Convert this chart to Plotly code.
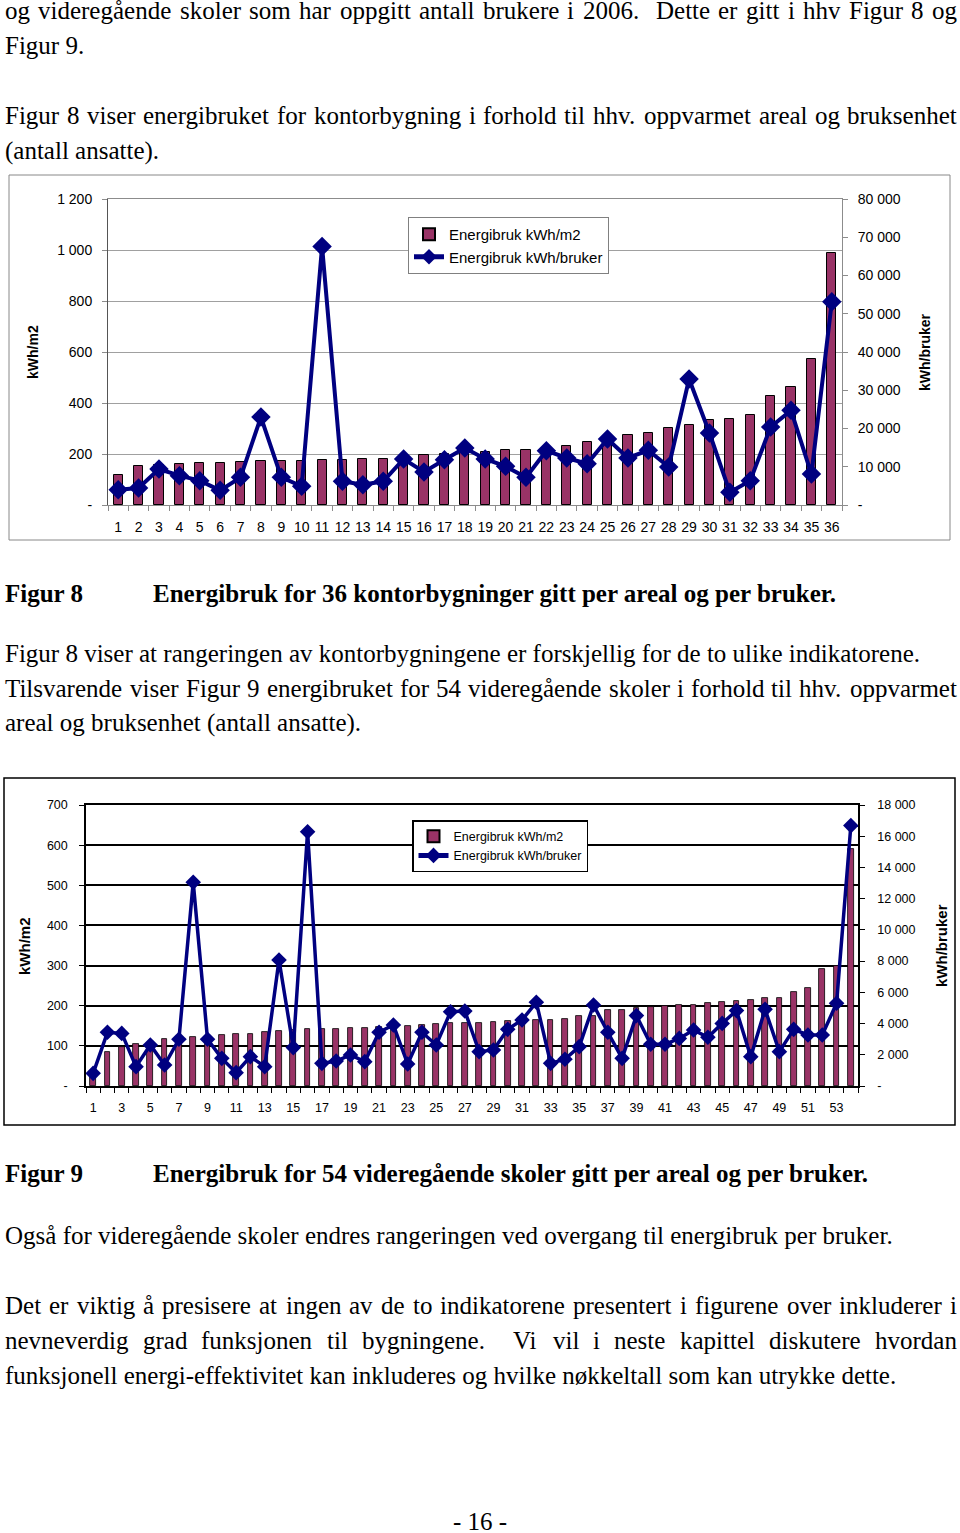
import plotly.graph_objects as go

W, H = 960, 1533

# ---------------- data ----------------
office_ids = list(range(1, 37))
office_kwh_m2 = [116, 154, 158, 161, 165, 165, 169, 171, 173, 174, 175, 178, 180, 182,
                 191, 196, 200, 205, 208, 214, 217, 224, 233, 248, 263, 273, 284, 302,
                 312, 332, 337, 353, 426, 463, 574, 990]
office_kwh_user = [4000, 4450, 9400, 7670, 6360, 3830, 7230, 23000, 7230, 4880, 67600,
                   6190, 5320, 6190, 12030, 8630, 11850, 14900, 12030, 10100, 7230, 14200,
                   12290, 10800, 17250, 12290, 14300, 9930, 32940, 18820, 3310, 6360,
                   20390, 24750, 8100, 53160]

school_ids = list(range(1, 55))
school_kwh_m2 = [25, 85, 98, 105, 108, 116, 119, 121, 123, 126, 129, 129, 134, 137, 140,
                 142, 142, 142, 145, 145, 146, 148, 150, 151, 154, 157, 157, 158, 160,
                 163, 164, 164, 165, 168, 174, 175, 189, 189, 194, 197, 199, 201, 203,
                 207, 210, 213, 215, 218, 218, 233, 243, 292, 300, 591]
school_kwh_user = [811, 3440, 3370, 1240, 2630, 1345, 2990, 13050, 2990, 1770, 854, 1880,
                   1240, 8070, 2460, 16290, 1450, 1600, 1990, 1560, 3440, 3910, 1410, 3440,
                   2630, 4760, 4800, 2200, 2310, 3630, 4230, 5360, 1450, 1710, 2520, 5190,
                   3440, 1770, 4510, 2670, 2670, 3050, 3590, 3120, 4010, 4830, 1880, 4910,
                   2200, 3630, 3270, 3270, 5300, 16680]

series_names = ["Energibruk kWh/m2", "Energibruk kWh/bruker"]
axis_titles = ["kWh/m2", "kWh/bruker"]

office_left_ticks = [0, 200, 400, 600, 800, 1000, 1200]
office_left_labels = ["-", "200", "400", "600", "800", "1 000", "1 200"]
office_right_ticks = [0, 10000, 20000, 30000, 40000, 50000, 60000, 70000, 80000]
office_right_labels = ["-", "10 000", "20 000", "30 000", "40 000", "50 000", "60 000",
                       "70 000", "80 000"]
office_x_labels = [str(i) for i in office_ids]

school_left_ticks = [0, 100, 200, 300, 400, 500, 600, 700]
school_left_labels = ["-", "100", "200", "300", "400", "500", "600", "700"]
school_right_ticks = [0, 2000, 4000, 6000, 8000, 10000, 12000, 14000, 16000, 18000]
school_right_labels = ["-", "2 000", "4 000", "6 000", "8 000", "10 000", "12 000",
                       "14 000", "16 000", "18 000"]
school_x_ticks = list(range(1, 55, 2))
school_x_labels = [str(i) for i in school_x_ticks]

# body text (content), justified flag
body_text = [
    ("og videregående skoler som har oppgitt antall brukere i 2006.  Dette er gitt i hhv Figur 8 og", True),
    ("Figur 9.", False),
    ("Figur 8 viser energibruket for kontorbygning i forhold til hhv. oppvarmet areal og bruksenhet", True),
    ("(antall ansatte).", False),
    ("Figur 8 viser at rangeringen av kontorbygningene er forskjellig for de to ulike indikatorene.", False),
    ("Tilsvarende viser Figur 9 energibruket for 54 videregående skoler i forhold til hhv. oppvarmet", True),
    ("areal og bruksenhet (antall ansatte).", False),
    ("Også for videregående skoler endres rangeringen ved overgang til energibruk per bruker.", False),
    ("Det er viktig å presisere at ingen av de to indikatorene presentert i figurene over inkluderer i", True),
    ("nevneverdig grad funksjonen til bygningene.  Vi vil i neste kapittel diskutere hvordan", True),
    ("funksjonell energi-effektivitet kan inkluderes og hvilke nøkkeltall som kan utrykke dette.", False),
]
captions = [
    ("Figur 8", "Energibruk for 36 kontorbygninger gitt per areal og per bruker."),
    ("Figur 9", "Energibruk for 54 videregående skoler gitt per areal og per bruker."),
]
page_number = "- 16 -"

# ---------------- layout constants ----------------
body_baselines = [18, 53, 123, 158, 661, 696, 730, 1243, 1313, 1348, 1383]
caption_baselines = [601, 1181]
FS = 25
SERIF = "Liberation Serif, Times New Roman, serif"
SANS = "Liberation Sans, Arial, sans-serif"
BAR_COLOR = "#993366"
LINE_COLOR = "#000080"

# Times-Roman advance widths (1/1000 em)
TW = {' ': 250, '.': 250, ',': 250, '-': 333, '(': 333, ')': 333,
      'a': 444, 'b': 500, 'c': 444, 'd': 500, 'e': 444, 'f': 333, 'g': 500, 'h': 500,
      'i': 278, 'j': 278, 'k': 500, 'l': 278, 'm': 778, 'n': 500, 'o': 500, 'p': 500,
      'q': 500, 'r': 333, 's': 389, 't': 278, 'u': 500, 'v': 500, 'w': 722, 'x': 500,
      'y': 500, 'z': 444, 'å': 444, 'ø': 500, 'æ': 667,
      'A': 722, 'B': 667, 'C': 667, 'D': 722, 'E': 611, 'F': 556, 'G': 722, 'H': 722,
      'I': 333, 'J': 389, 'K': 722, 'L': 611, 'M': 889, 'N': 722, 'O': 722, 'P': 556,
      'Q': 722, 'R': 667, 'S': 556, 'T': 611, 'U': 722, 'V': 722, 'W': 944, 'X': 722,
      'Y': 722, 'Z': 611}


def tw(s, fs=FS):
    return sum(TW.get(c, 500) for c in s) / 1000.0 * fs


def px(x):
    return x / W


def py(y):
    return 1 - y / H


annotations = []


def text_ann(x, baseline, text, size=FS, bold=False, anchor="left"):
    annotations.append(dict(
        x=px(x), y=py(baseline - 0.3 * size), xref="paper", yref="paper",
        text=("<b>%s</b>" % text) if bold else text, showarrow=False,
        xanchor=anchor, yanchor="middle", borderpad=0,
        font=dict(family=SERIF, size=size, color="black")))


X0, X1 = 4, 956
for (line, just), base in zip(body_text, body_baselines):
    if not just:
        text_ann(X0, base, line)
        continue
    words = line.split(" ")
    gaps = len(words) - 1
    natural = sum(tw(w) for w in words) + gaps * tw(" ")
    extra = (X1 - X0 - natural) / gaps
    x = X0
    for w in words:
        if w:
            text_ann(x, base, w)
        x += tw(w) + tw(" ") + extra

for (lab, cap), base in zip(captions, caption_baselines):
    text_ann(4, base, lab, bold=True)
    text_ann(152, base, cap, bold=True)

text_ann(480, 1529, page_number, anchor="center")


def rot_title(x, y, text, size):
    annotations.append(dict(
        x=px(x), y=py(y), xref="paper", yref="paper", text="<b>%s</b>" % text,
        showarrow=False, textangle=-90, xanchor="center", yanchor="middle",
        font=dict(family=SANS, size=size, color="black")))


rot_title(33, 352, axis_titles[0], 14)
rot_title(925, 352, axis_titles[1], 14)
rot_title(24, 946, axis_titles[0], 15)
rot_title(941, 946, axis_titles[1], 15)

# ---------------- figure ----------------
fig = go.Figure()

fig.add_trace(go.Bar(
    x=office_ids, y=office_kwh_m2, name=series_names[0], width=0.45,
    marker=dict(color=BAR_COLOR, line=dict(color="black", width=1)),
    xaxis="x", yaxis="y", legend="legend"))
fig.add_trace(go.Scatter(
    x=office_ids, y=office_kwh_user, name=series_names[1], mode="lines+markers",
    line=dict(color=LINE_COLOR, width=4),
    marker=dict(symbol="diamond", size=15, color=LINE_COLOR),
    xaxis="x", yaxis="y2", legend="legend"))

fig.add_trace(go.Bar(
    x=school_ids, y=school_kwh_m2, name=series_names[0], width=0.4,
    marker=dict(color=BAR_COLOR, line=dict(color="black", width=0.8)),
    xaxis="x2", yaxis="y3", legend="legend2"))
fig.add_trace(go.Scatter(
    x=school_ids, y=school_kwh_user, name=series_names[1], mode="lines+markers",
    line=dict(color=LINE_COLOR, width=3.5),
    marker=dict(symbol="diamond", size=12, color=LINE_COLOR),
    xaxis="x2", yaxis="y4", legend="legend2"))

tick1 = dict(family=SANS, size=14, color="black")
tick2 = dict(family=SANS, size=12.5, color="black")
G1 = "#8c8c8c"

fig.update_layout(
    width=W, height=H, autosize=False,
    margin=dict(l=0, r=0, t=0, b=0, pad=0, autoexpand=False),
    paper_bgcolor="white", plot_bgcolor="white",
    bargap=0,
    annotations=annotations,
    xaxis=dict(domain=[px(108), px(842)], anchor="y", range=[0.5, 36.5],
               tickmode="array", tickvals=office_ids, ticktext=office_x_labels,
               ticks="", ticklabelstandoff=9, tickfont=tick1,
               showline=True, linecolor=G1, linewidth=1, mirror=True,
               showgrid=False, zeroline=False,
               minor=dict(tickmode="linear", tick0=0.5, dtick=1, ticks="outside",
                          ticklen=5, tickcolor=G1, showgrid=False)),
    yaxis=dict(domain=[py(505), py(199)], anchor="x", range=[0, 1200],
               tickmode="array", tickvals=office_left_ticks, ticktext=office_left_labels,
               ticks="outside", ticklen=5, tickcolor=G1, ticklabelstandoff=7,
               tickfont=tick1, showline=True, linecolor="#555555", linewidth=1,
               showgrid=True, gridcolor="#a0a0a0", gridwidth=1, zeroline=False),
    yaxis2=dict(overlaying="y", side="right", anchor="x", range=[0, 80000],
                tickmode="array", tickvals=office_right_ticks, ticktext=office_right_labels,
                ticks="outside", ticklen=5, tickcolor=G1, ticklabelstandoff=7,
                tickfont=tick1, showline=True, linecolor=G1, linewidth=1,
                showgrid=False, zeroline=False),
    xaxis2=dict(domain=[px(86), px(858)], anchor="y3", range=[0.5, 54.5],
                tickmode="array", tickvals=school_x_ticks, ticktext=school_x_labels,
                ticks="", ticklabelstandoff=9, tickfont=tick2,
                showline=True, linecolor="black", linewidth=1.5, mirror=True,
                showgrid=False, zeroline=False,
                minor=dict(tickmode="linear", tick0=0.5, dtick=1, ticks="outside",
                           ticklen=5, tickcolor="black", showgrid=False)),
    yaxis3=dict(domain=[py(1086), py(805)], anchor="x2", range=[0, 700],
                tickmode="array", tickvals=school_left_ticks, ticktext=school_left_labels,
                ticks="outside", ticklen=5, tickcolor="black", ticklabelstandoff=9,
                tickfont=tick2, showline=True, linecolor="black", linewidth=1.5,
                showgrid=True, gridcolor="black", gridwidth=1.5, zeroline=False),
    yaxis4=dict(overlaying="y3", side="right", anchor="x2", range=[0, 18000],
                tickmode="array", tickvals=school_right_ticks, ticktext=school_right_labels,
                ticks="outside", ticklen=5, tickcolor="black", ticklabelstandoff=10,
                tickfont=tick2, showline=True, linecolor="black", linewidth=1.5,
                showgrid=False, zeroline=False),
    legend=dict(x=px(408), y=py(217), xanchor="left", yanchor="top",
                bgcolor="white", bordercolor="#808080", borderwidth=1,
                font=dict(family=SANS, size=15, color="black"),
                tracegroupgap=0, itemsizing="constant"),
    legend2=dict(x=px(412), y=py(820), xanchor="left", yanchor="top",
                 bgcolor="white", bordercolor="black", borderwidth=1.5,
                 font=dict(family=SANS, size=12.5, color="black"),
                 tracegroupgap=0, itemsizing="constant"),
    shapes=[
        dict(type="rect", xref="paper", yref="paper", x0=px(9), x1=px(950),
             y0=py(540), y1=py(175), line=dict(color="#888888", width=1), layer="below"),
        dict(type="rect", xref="paper", yref="paper", x0=px(4), x1=px(955),
             y0=py(1125), y1=py(778), line=dict(color="black", width=1.5), layer="below"),
    ],
)

PAGE_JS = ("document.body.style.margin='0';"
           "document.body.style.padding='0';"
           "document.body.style.overflow='hidden';"
           "document.documentElement.style.overflow='hidden';")

fig.write_html("out.html", post_script=PAGE_JS, config={"displayModeBar": False})
